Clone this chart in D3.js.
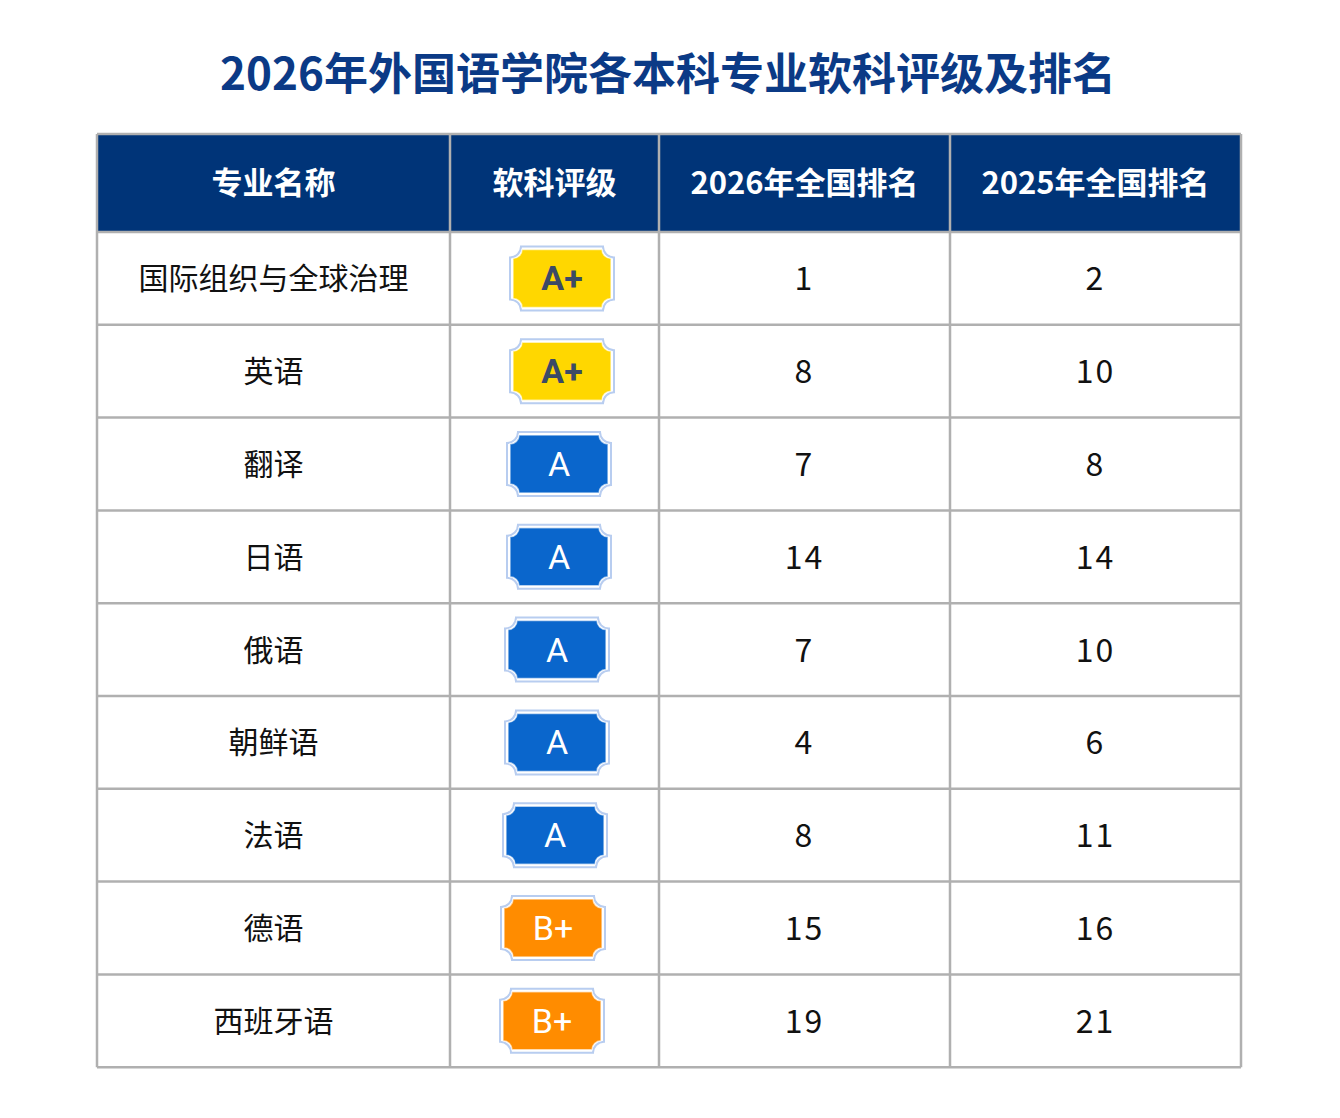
<!DOCTYPE html>
<html>
<head>
<meta charset="utf-8">
<style>
  body { margin: 0; background: #fff; font-family: "Noto Sans CJK SC", "Noto Sans", sans-serif; }
  svg { display: block; }
</style>
</head>
<body>
<svg width="1340" height="1118"></svg>
<script src="https://d3js.org/d3.v7.min.js"></script>
<script>
  let svg = d3.select("svg")

  let data = [
    { name: "国际组织与全球治理", grade: "A+", r26: 1, r25: 2, dx: 0 },
    { name: "英语", grade: "A+", r26: 8, r25: 10, dx: 0 },
    { name: "翻译", grade: "A", r26: 7, r25: 8, dx: -3 },
    { name: "日语", grade: "A", r26: 14, r25: 14, dx: -3 },
    { name: "俄语", grade: "A", r26: 7, r25: 10, dx: -5 },
    { name: "朝鲜语", grade: "A", r26: 4, r25: 6, dx: -5 },
    { name: "法语", grade: "A", r26: 8, r25: 11, dx: -7 },
    { name: "德语", grade: "B+", r26: 15, r25: 16, dx: -9 },
    { name: "西班牙语", grade: "B+", r26: 19, r25: 21, dx: -10 }
  ]

  let gradeStyle = {
    "A+": { fill: "#FFD700", text: "#3b4a66" },
    "A": { fill: "#0a66cc", text: "#ffffff" },
    "B+": { fill: "#FF8C00", text: "#ffffff" }
  }

  let headers = ["专业名称", "软科评级", "2026年全国排名", "2025年全国排名"]
  let colEdges = [97, 450, 659, 950, 1241]
  let tableTop = 134, headH = 98, rowH = 92.8

  svg.append("text")
    .attr("x", 668).attr("y", 90)
    .attr("text-anchor", "middle")
    .attr("font-size", 44).attr("font-weight", "bold")
    .attr("fill", "#0b3a86")
    .text("2026年外国语学院各本科专业软科评级及排名")

  let y = d3.scaleBand()
    .domain(d3.range(data.length))
    .range([tableTop + headH, tableTop + headH + rowH * data.length])

  // header
  svg.append("rect")
    .attr("x", colEdges[0]).attr("y", tableTop)
    .attr("width", colEdges[4] - colEdges[0]).attr("height", headH)
    .attr("fill", "#003478")

  headers.forEach((h, i) => {
    svg.append("text")
      .attr("x", (colEdges[i] + colEdges[i + 1]) / 2)
      .attr("y", tableTop + headH / 2 + 11)
      .attr("text-anchor", "middle")
      .attr("font-size", 31).attr("font-weight", "bold")
      .attr("fill", "#fff")
      .text(h)
  })

  // badge shape: rectangle with concave corners
  function badge(w, h, r) {
    let x0 = -w / 2, y0 = -h / 2
    return `M${x0 + r},${y0} L${-x0 - r},${y0} A${r},${r} 0 0 0 ${-x0},${y0 + r}
      L${-x0},${-y0 - r} A${r},${r} 0 0 0 ${-x0 - r},${-y0}
      L${x0 + r},${-y0} A${r},${r} 0 0 0 ${x0},${-y0 - r}
      L${x0},${y0 + r} A${r},${r} 0 0 0 ${x0 + r},${y0} Z`
  }

  let rows = svg.append("g").selectAll("g")
    .data(data)
    .join("g")
    .attr("transform", (d, i) => `translate(0,${y(i)})`)

  let cy = y.bandwidth() / 2

  rows.append("text")
    .attr("x", (colEdges[0] + colEdges[1]) / 2).attr("y", cy + 11)
    .attr("text-anchor", "middle").attr("font-size", 30).attr("fill", "#111")
    .text(d => d.name)

  let b = rows.append("g")
    .attr("transform", d => `translate(${562 + d.dx},${cy})`)
  b.append("path").attr("d", badge(104, 64, 11))
    .attr("fill", "none").attr("stroke", "#b8cdf0").attr("stroke-width", 2)
  b.append("path").attr("d", badge(98, 58, 9))
    .attr("fill", d => gradeStyle[d.grade].fill)
    .attr("stroke", "#ffffff").attr("stroke-opacity", 0.6).attr("stroke-width", 1.5)
  b.append("text")
    .attr("y", 12).attr("text-anchor", "middle")
    .attr("font-family", "Roboto, 'Noto Sans', sans-serif")
    .attr("font-size", 34)
    .attr("font-weight", d => d.grade === "A+" ? "bold" : "normal")
    .attr("fill", d => gradeStyle[d.grade].text)
    .text(d => d.grade)

  rows.append("text")
    .attr("x", (colEdges[2] + colEdges[3]) / 2).attr("y", cy + 12)
    .attr("text-anchor", "middle").attr("font-size", 32).attr("fill", "#111")
    .attr("letter-spacing", 2)
    .text(d => d.r26)

  rows.append("text")
    .attr("x", (colEdges[3] + colEdges[4]) / 2).attr("y", cy + 12)
    .attr("text-anchor", "middle").attr("font-size", 32).attr("fill", "#111")
    .attr("letter-spacing", 2)
    .text(d => d.r25)

  // grid lines
  let bottom = tableTop + headH + rowH * data.length
  let grid = svg.append("g").attr("stroke", "#b0b0b0").attr("stroke-width", 2.5)
  colEdges.forEach(x => grid.append("line").attr("x1", x).attr("x2", x).attr("y1", tableTop).attr("y2", bottom))
  let hl = [tableTop, tableTop + headH].concat(data.map((d, i) => y(i) + rowH))
  hl.forEach(v => grid.append("line").attr("x1", colEdges[0]).attr("x2", colEdges[4]).attr("y1", v).attr("y2", v))
</script>
</body>
</html>
